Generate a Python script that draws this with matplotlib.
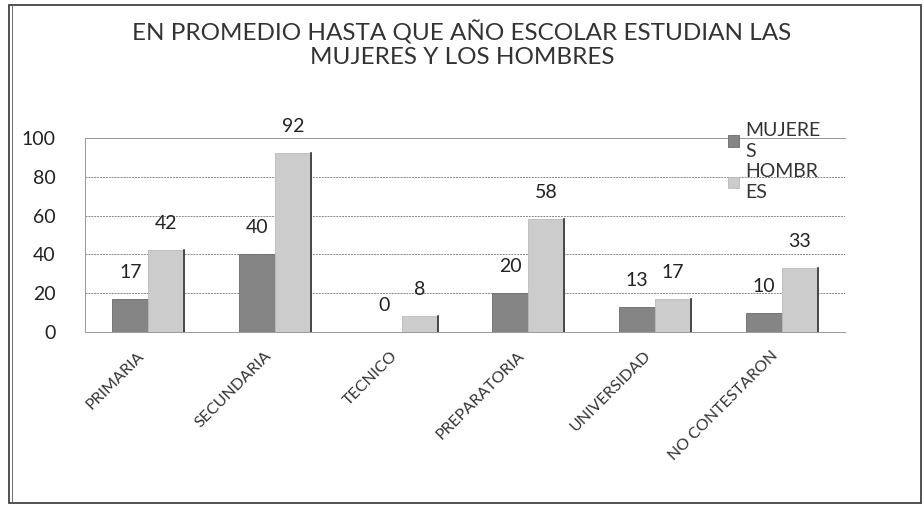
import numpy as np
import matplotlib
matplotlib.use("Agg")
import matplotlib.pyplot as plt
from matplotlib.patches import Rectangle
from matplotlib.transforms import ScaledTranslation

plt.rcParams['font.family'] = ['Lato', 'DejaVu Sans']

categorias = ['PRIMARIA', 'SECUNDARIA', 'TECNICO', 'PREPARATORIA',
              'UNIVERSIDAD', 'NO CONTESTARON']
mujeres = [17, 40, 0, 20, 13, 10]
hombres = [42, 92, 8, 58, 17, 33]
etiquetas_series = ['MUJERE\nS', 'HOMBR\nES']
yticks = [0, 20, 40, 60, 80, 100]

fig = plt.figure(figsize=(9.24, 5.08), dpi=100)
ax = fig.add_axes([0.092, 0.3465, 0.8225, 0.382])

x = np.arange(len(categorias))
w = 0.285
b1 = ax.bar(x - w / 2, mujeres, w, color='#858585', edgecolor='#6a6a6a', linewidth=0.6,
            label=etiquetas_series[0], zorder=3)
b2 = ax.bar(x + w / 2, hombres, w, color='#cccccc', edgecolor='#bbbbbb', linewidth=0.6,
            label=etiquetas_series[1], zorder=3)
# borde oscuro a la derecha de las barras claras
for r in b2:
    ax.plot([r.get_x() + r.get_width()] * 2, [0, r.get_height()], color='#333333', lw=1.2, zorder=4)

for bars in (b1, b2):
    for r in bars:
        ax.annotate(str(int(r.get_height())), (r.get_x() + r.get_width() / 2, r.get_height()),
                    xytext=(0, 13), textcoords='offset points', ha='center', va='bottom',
                    fontsize=14, color='#222222')

ax.set_xlim(-0.5, len(categorias) - 0.5)
ax.set_ylim(0, 100)
ax.set_yticks(yticks)
ax.set_yticklabels([str(v) for v in yticks], fontsize=14, color='#222222')
ax.tick_params(axis='y', length=0, pad=21)
ax.set_xticks(x)
ax.set_xticklabels(categorias, rotation=45, ha='right', va='top', fontsize=11.5,
                   color='#333333', rotation_mode='anchor')
ax.tick_params(axis='x', length=0, pad=12)
desplaza = ScaledTranslation(-0.11, 0, fig.dpi_scale_trans)
for lab in ax.get_xticklabels():
    lab.set_transform(lab.get_transform() + desplaza)
ax.yaxis.grid(True, color='#888888', linestyle=(0, (2, 1)), linewidth=0.7, zorder=0)
for s in ax.spines.values():
    s.set_color('#999999')
    s.set_linestyle((0, (2, 1)))
    s.set_linewidth(0.7)
ax.spines['right'].set_visible(False)

leg = fig.legend(loc='upper left', bbox_to_anchor=(0.78, 0.775), frameon=False,
                 fontsize=14, handlelength=0.55, handleheight=0.55, handletextpad=0.3,
                 labelspacing=0.15, borderaxespad=0)
for t in leg.get_texts():
    t.set_color('#333333')
    t.set_linespacing(1.3)

fig.text(0.5, 0.96, 'EN PROMEDIO HASTA QUE AÑO ESCOLAR ESTUDIAN LAS\nMUJERES Y LOS HOMBRES',
         ha='center', va='top', fontsize=17.5, color='#333333',
         linespacing=1.15)

# marco exterior
fig.patches.append(Rectangle((9 / 924, 5 / 508), 912 / 924, 498 / 508, transform=fig.transFigure,
                             fill=False, edgecolor='#333333', linewidth=1.2))
fig.patches.append(Rectangle((12 / 924, 5 / 508), 909 / 924, 498 / 508, transform=fig.transFigure,
                             fill=False, edgecolor='#555555', linewidth=0.6))

fig.savefig('out.png', dpi=100)
